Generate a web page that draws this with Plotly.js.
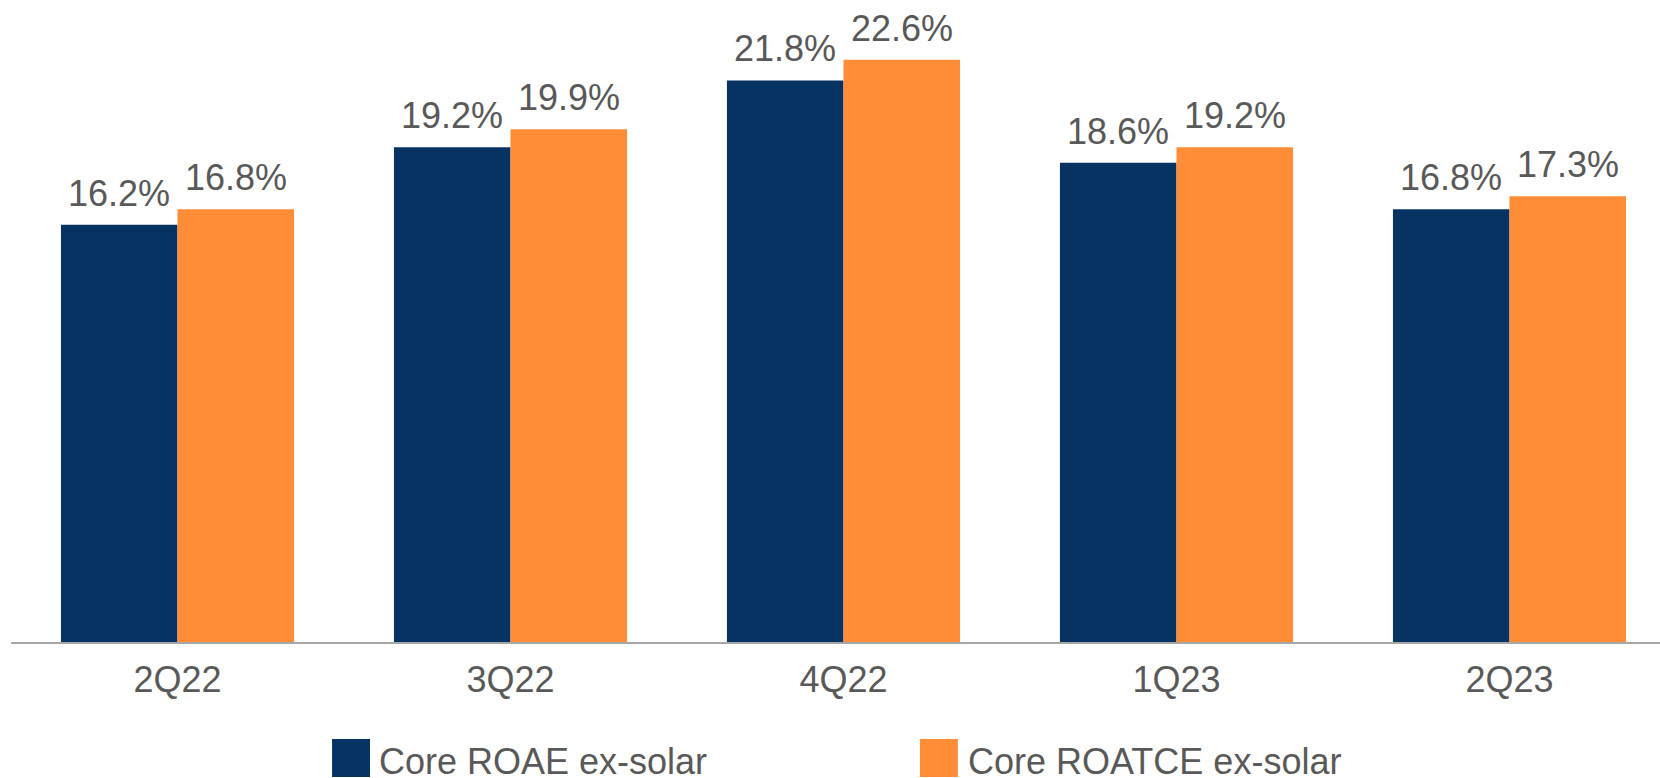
<!DOCTYPE html>
<html>
<head>
<meta charset="utf-8">
<script src="https://cdn.plot.ly/plotly-3.0.1.min.js"></script>
<style>html,body{margin:0;padding:0;background:#fff;}#chart{width:1660px;height:778px;}</style>
</head>
<body>
<div id="chart"></div>
<script>
const categories = ["2Q22", "3Q22", "4Q22", "1Q23", "2Q23"];
const seriesNames = ["Core ROAE ex-solar", "Core ROATCE ex-solar"];
const roae = [16.2, 19.2, 21.8, 18.6, 16.8];
const roatce = [16.8, 19.9, 22.6, 19.2, 17.3];
const colors = ["#073363", "#FF8C37"];

const FONT = '"Liberation Sans", Arial, sans-serif';
const GRAY = '#595959';

const traces = [
  {type: 'bar', name: seriesNames[0], x: categories, y: roae,
   marker: {color: colors[0]}, hoverinfo: 'none', showlegend: false},
  {type: 'bar', name: seriesNames[1], x: categories, y: roatce,
   marker: {color: colors[1]}, hoverinfo: 'none', showlegend: false}
];

const annotations = [];
[roae, roatce].forEach((vals, s) => {
  vals.forEach((v, i) => {
    annotations.push({
      x: i + (s === 0 ? -0.175 : 0.175), y: v, xref: 'x', yref: 'y',
      text: v.toFixed(1) + '%', showarrow: false,
      xanchor: 'center', yanchor: 'bottom', yshift: 9,
      font: {family: FONT, size: 36, color: GRAY}
    });
  });
});

// custom legend (large square swatches)
const legendPos = [{x0: 0.1947, x1: 0.2177, tx: 0.2226}, {x0: 0.5512, x1: 0.5742, tx: 0.5796}];
const shapes = [];
seriesNames.forEach((n, s) => {
  shapes.push({type: 'rect', xref: 'paper', yref: 'paper',
    x0: legendPos[s].x0, x1: legendPos[s].x1, y0: -0.2103, y1: -0.1511,
    fillcolor: colors[s], line: {width: 0}});
  annotations.push({xref: 'paper', yref: 'paper', x: legendPos[s].tx, y: -0.1861,
    xanchor: 'left', yanchor: 'middle', text: n, showarrow: false, borderpad: 0,
    font: {family: FONT, size: 36, color: GRAY}});
});

const layout = {
  width: 1660, height: 778,
  margin: {l: 11, r: 0, t: 0, b: 136, pad: 0},
  paper_bgcolor: '#ffffff', plot_bgcolor: '#ffffff',
  barmode: 'group', bargap: 0.3, bargroupgap: 0,
  font: {family: FONT, color: GRAY},
  xaxis: {type: 'category', range: [-0.5, 4.452], showline: true, linecolor: '#A6A6A6',
    linewidth: 2, ticks: '', showgrid: false, zeroline: false,
    tickfont: {family: FONT, size: 36, color: GRAY}, ticklabelstandoff: 5, fixedrange: true},
  yaxis: {range: [0, 24.92], visible: false, showgrid: false, zeroline: false, fixedrange: true},
  annotations: annotations,
  shapes: shapes,
  showlegend: false
};

Plotly.newPlot('chart', traces, layout, {displayModeBar: false, staticPlot: true});
</script>
</body>
</html>
